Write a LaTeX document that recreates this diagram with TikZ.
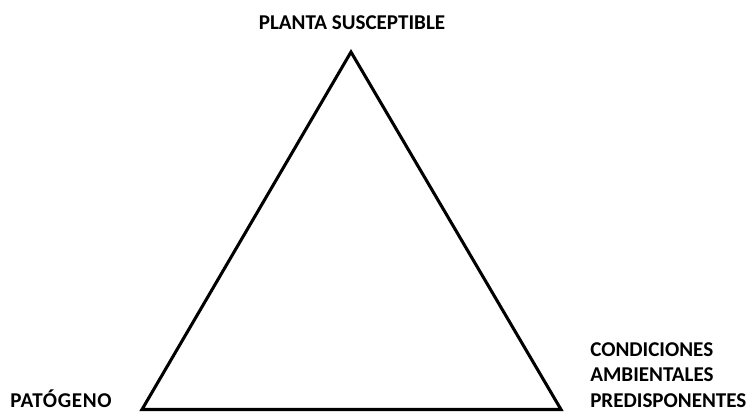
\documentclass[tikz,border=0pt]{standalone}
\usepackage{fontspec}
\setmainfont{Carlito}
\usepackage{tikz}
\tikzset{
	side/.style={line width=2.3pt, line join=miter}, % the three sides of the triangle
	corner label/.style={inner sep=0pt, font=\bfseries\fontsize{15.8}{19}\selectfont}, % texts at the corners
}

\begin{document}
\begin{tikzpicture}[x=0.75pt,y=0.75pt]
	\useasboundingbox (0,0) rectangle (750,412);
	\coordinate (planta) at (351,360);
	\coordinate (patogeno) at (142,2.5);
	\coordinate (condiciones) at (561,2.5);
	\draw[side] (planta) -- (patogeno) -- (condiciones) -- cycle;
	\node[corner label, anchor=base] (lplanta) at (352,383) {PLANTA SUSCEPTIBLE};
	\node[corner label, anchor=base west] (lpatogeno) at (10,5)
		{\addfontfeature{LetterSpace=3}PATÓGENO};
	\node[corner label, anchor=base west, align=left] (lcondiciones) at (590,5)
		{CONDICIONES\\AMBIENTALES\\PREDISPONENTES};
\end{tikzpicture}
\end{document}
